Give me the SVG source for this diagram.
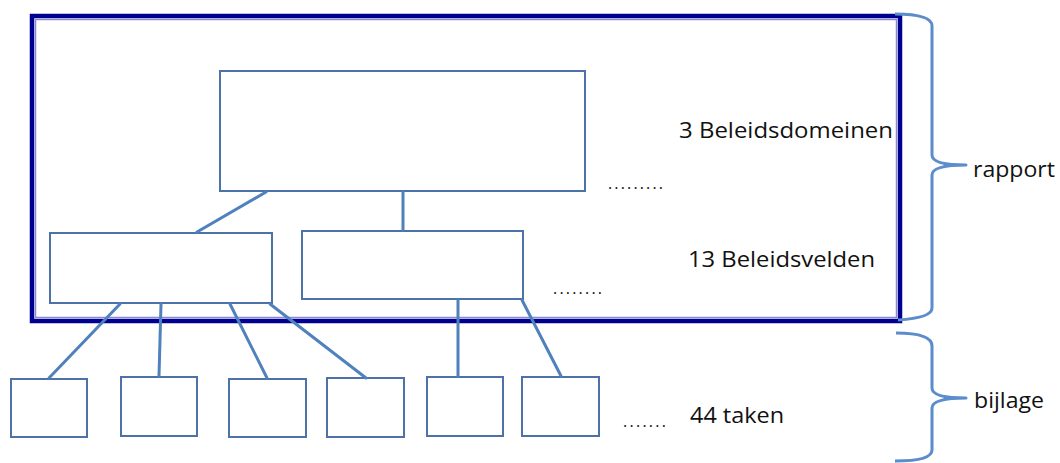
<svg xmlns="http://www.w3.org/2000/svg" width="1060" height="463" viewBox="0 0 1060 463">
<style>
.box{fill:#ffffff;stroke:#4d72a8;stroke-width:2}
.con{stroke:#4f81bd;stroke-width:3;fill:none;stroke-linecap:round}
.brace{stroke:#5b8ccc;stroke-width:3;fill:none;stroke-linejoin:round}
.lbl{font-family:"Open Sans","Liberation Sans",sans-serif;font-size:22px;fill:#111111}
.dots{font-family:"Open Sans","Liberation Sans",sans-serif;font-size:16px;fill:#111111}
</style>
<rect width="1060" height="463" fill="#ffffff"/>
<g id="frame">
<rect x="32" y="16" width="868" height="305" fill="none" stroke="#000090" stroke-width="4.5"/>
<rect x="35.5" y="19.5" width="861" height="298" fill="none" stroke="#8a8ad0" stroke-width="1.5"/>
</g>
<g id="nodes">
<g id="domein"><rect class="box" x="220" y="71" width="365" height="120"/></g>
<g id="veld1"><rect class="box" x="50" y="233" width="222" height="70"/></g>
<g id="veld2"><rect class="box" x="302" y="231" width="221" height="68"/></g>
<g id="taak1"><rect class="box" x="11" y="379" width="76" height="58"/></g>
<g id="taak2"><rect class="box" x="121" y="377" width="76" height="59"/></g>
<g id="taak3"><rect class="box" x="229" y="379" width="77" height="58"/></g>
<g id="taak4"><rect class="box" x="327" y="378" width="77" height="59"/></g>
<g id="taak5"><rect class="box" x="427" y="377" width="76" height="59"/></g>
<g id="taak6"><rect class="box" x="522" y="377" width="77" height="59"/></g>
</g>
<g id="connectors">
<line class="con" x1="266" y1="192" x2="197" y2="232"/>
<line class="con" x1="403" y1="192" x2="403" y2="230"/>
<line class="con" x1="120" y1="304" x2="49" y2="378"/>
<line class="con" x1="161" y1="304" x2="159" y2="376"/>
<line class="con" x1="230" y1="304" x2="267" y2="378"/>
<line class="con" x1="270" y1="304" x2="366" y2="378"/>
<line class="con" x1="458" y1="300" x2="458" y2="376"/>
<line class="con" x1="522" y1="300" x2="561" y2="376"/>
</g>
<g id="braces">
<path class="brace" d="M895,14 Q932,14 932,26 L932,155 Q932,165 966,165 Q932,165 932,175 L932,308 Q932,318 898,320"/>
<path class="brace" d="M896,333 Q932,333 932,346 L932,388 Q932,398 966,398 Q932,398 932,408 L932,450 Q932,461 895,461"/>
</g>
<g id="labels">
<text class="lbl" x="679" y="138" textLength="214" lengthAdjust="spacingAndGlyphs">3 Beleidsdomeinen</text>
<text class="lbl" x="688" y="267" textLength="187" lengthAdjust="spacingAndGlyphs">13 Beleidsvelden</text>
<text class="lbl" x="690" y="423" textLength="94" lengthAdjust="spacingAndGlyphs">44 taken</text>
<text class="lbl" x="973" y="177" textLength="82" lengthAdjust="spacingAndGlyphs">rapport</text>
<text class="lbl" x="974" y="408" textLength="70" lengthAdjust="spacingAndGlyphs">bijlage</text>
<text class="dots" x="608" y="189" textLength="55" lengthAdjust="spacing">.........</text>
<text class="dots" x="553" y="294" textLength="49" lengthAdjust="spacing">........</text>
<text class="dots" x="623" y="427" textLength="43" lengthAdjust="spacing">.......</text>
</g>
</svg>
